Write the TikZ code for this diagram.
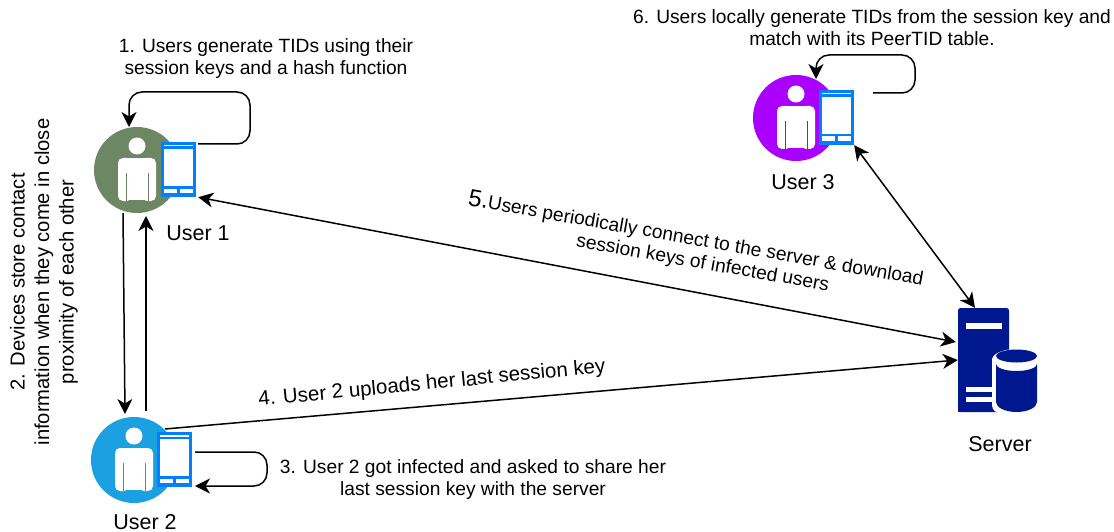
\documentclass[tikz,border=0pt]{standalone}
\usepackage{fontspec}
\setmainfont{Liberation Sans}
\usetikzlibrary{arrows.meta}
\definecolor{usergreen}{HTML}{6D8764}
\definecolor{userblue}{HTML}{1BA1E2}
\definecolor{userviolet}{HTML}{AA00FF}
\definecolor{phoneblue}{HTML}{007FFF}
\definecolor{servernavy}{HTML}{00188F}
\tikzset{
  flow/.style={line width=1.5pt, >={Stealth[length=15pt,width=15pt,inset=4.5pt]}},
  loopflow/.style={flow, rounded corners=13pt},
  caption/.style={font={\fontsize{19.2}{22}\selectfont}, align=center, inner sep=0pt},
  username/.style={font={\fontsize{21.5}{24}\selectfont}, inner sep=0pt},
  userdisc/.style={circle, inner sep=0pt, minimum size=86pt},
  phonebox/.style={rectangle, inner sep=0pt, fill=phoneblue, minimum width=35pt, minimum height=55pt},
  pics/person/.style={code={
    \fill[white] (0,-24) circle (8.5);
    \fill[white, rounded corners=5pt] (-19,31) rectangle (-5,-12);
    \fill[white, rounded corners=5pt] (19,31) rectangle (5,-12);
    \fill[white] (-11,-12) rectangle (11,30);
    \draw[#1, line width=.8pt] (-11,3) -- (-11,31) (11,3) -- (11,31);
  }},
  pics/phonescreen/.style={code={
    \fill[white] (-14.3,-20.2) rectangle (14.3,16.5);
    \fill[white] (-14.3,-24.5) rectangle (14.3,-23);
    \fill[white] (-14.3,19) rectangle (14.3,23.7);
    \fill[phoneblue] (-1.3,19) rectangle (1.3,23.7);
  }}
}
\begin{document}
\begin{tikzpicture}[x=1pt, y=-1pt]
\useasboundingbox (0,0) rectangle (1114,532);
% users with their phones
\foreach \idx/\ux/\uy/\ucol/\px/\py in {1/137/170/usergreen/178.5/169.5, 2/134/460/userblue/174.5/459.5, 3/796/118/userviolet/836.5/117.5} {
  \node[userdisc, fill=\ucol] (user\idx) at (\ux,\uy) {};
  \pic at (user\idx) {person=\ucol};
  \node[phonebox] (phone\idx) at (\px,\py) {};
  \pic at (phone\idx) {phonescreen};
}
% server
\node[rectangle, fill=servernavy, rounded corners=2.5pt, inner sep=0pt, minimum width=51pt, minimum height=104pt] (server) at (983.5,360) {};
\fill[servernavy] (958,380) rectangle (1000,412);
\fill[white] (966,323) rectangle (1002,329);
\fill[white] (966,387) rectangle (995,392);
\fill[white] (966,397) rectangle (995,402);
\fill[white] (992,360) arc[x radius=24, y radius=11, start angle=180, end angle=360] -- (1040,413) -- (1000,413) arc[radius=8, start angle=90, end angle=180] -- cycle;
\fill[servernavy] (996,356) arc[x radius=20.5, y radius=6.5, start angle=180, end angle=540] -- cycle;
\fill[servernavy] (996,364) arc[x radius=20.5, y radius=7, start angle=180, end angle=0] -- (1037,402) arc[x radius=20.5, y radius=10, start angle=0, end angle=180] -- cycle;
% free ends of the loops
\coordinate (loop1) at (198,144);
\coordinate (loop2) at (195,452);
\coordinate (loop2end) at (195,486);
\coordinate (loop3) at (873,93);
% connectors
\draw[loopflow, ->] (loop1) -- (250,144) -- (250,92) -- (129,92) -- (129,127);
\draw[loopflow, ->] (loop2) -- (267,452) -- (267,486) -- (loop2end);
\draw[loopflow, ->] (loop3) -- (915,93) -- (915,55) -- (816,55) -- (816,79);
\draw[flow, ->] (123,213) -- (125,414);
\draw[flow, ->] (146,411) -- (146,216);
\draw[flow, <->] ([xshift=2pt]phone1.south east) -- ([xshift=-2pt,yshift=18pt]server.west);
\draw[flow, ->] (165,429) -- (server.west);
\draw[flow, <->] (phone3.south east) -- ([xshift=-8.5pt]server.north);
% labels
\node[caption] (text1) at (266,59) {1. Users generate TIDs using their\\session keys and a hash function};
\node[caption, rotate=90, font={\fontsize{20.2}{24.5}\selectfont}] (text2) at (44,282) {2. Devices store contact\\information when they come in close\\proximity of each other};
\node[caption] (text3) at (473,480) {3. User 2 got infected and asked to share her\\last session key with the server};
\node[caption, rotate=5.5, font={\fontsize{20.5}{23}\selectfont}] (text4) at (432,384) {4. User 2 uploads her last session key};
\node[caption, rotate=-10] (text5) at (694,250) {{\fontsize{24}{22}\selectfont 5.}Users periodically connect to the server \& download\\\hspace*{22pt}session keys of infected users};
\node[caption] (text6) at (872,28) {6. Users locally generate TIDs from the session key and\\match with its PeerTID table.};
\node[username] (name1) at (198,233) {User 1};
\node[username] (name2) at (145,522) {User 2};
\node[username] (name3) at (803,182) {User 3};
\node[username] (name4) at (1000,444) {Server};
\end{tikzpicture}
\end{document}
